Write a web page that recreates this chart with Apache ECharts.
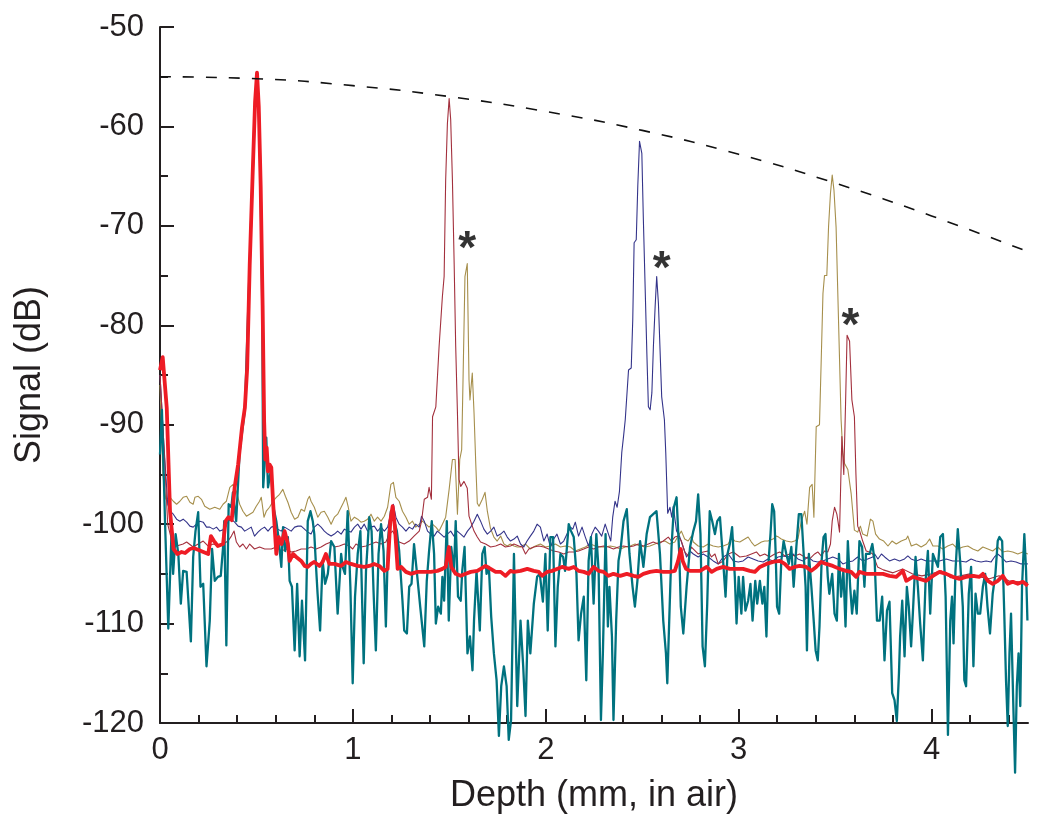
<!DOCTYPE html>
<html>
<head>
<meta charset="utf-8">
<script src="https://cdn.jsdelivr.net/npm/echarts@6/dist/echarts.min.js"></script>
<style>html,body{margin:0;padding:0;background:#fff;}#c{width:1050px;height:830px;}</style>
</head>
<body>
<div id="c"></div>
<script>
// ---- tick labels / positions ----
const xTickValues = [0, 1, 2, 3, 4];
const xMinorTickValues = [0.2,0.4,0.6,0.8,1.2,1.4,1.6,1.8,2.2,2.4,2.6,2.8,3.2,3.4,3.6,3.8,4.2,4.4];
const yTickValues = [-120,-110,-100,-90,-80,-70,-60,-50];
const yMinorTickValues = [-115,-105,-95,-85,-75,-65,-55];

// ---- series data [depth mm, signal dB] ----
const redData = [[0,-84.5],[0.014,-83.2],[0.035,-88.3],[0.052,-98.7],[0.07,-102.5],[0.09,-103],[0.112,-102.8],[0.13,-102.9],[0.155,-102.5],[0.175,-102.4],[0.2,-102.6],[0.225,-102.8],[0.25,-103],[0.264,-101.2],[0.28,-101.7],[0.3,-102.2],[0.327,-102],[0.34,-99.7],[0.355,-99.3],[0.372,-99.6],[0.387,-96.3],[0.405,-94],[0.425,-90.3],[0.44,-88.3],[0.452,-84.3],[0.465,-74],[0.48,-65],[0.493,-57.5],[0.503,-54.6],[0.512,-58],[0.522,-66],[0.532,-78],[0.54,-89.7],[0.546,-93.5],[0.553,-92.3],[0.56,-94.7],[0.568,-94],[0.577,-94.3],[0.586,-97.7],[0.603,-103],[0.615,-101.3],[0.63,-102],[0.646,-100.7],[0.663,-102],[0.672,-103.7],[0.69,-103],[0.706,-103.3],[0.732,-103.7],[0.75,-104.2],[0.766,-104.3],[0.783,-104],[0.8,-103.8],[0.827,-104.2],[0.843,-103.8],[0.86,-103],[0.878,-104],[0.904,-104],[0.939,-104.2],[0.964,-103.8],[0.99,-104],[1.025,-104.2],[1.059,-104.3],[1.085,-104.2],[1.11,-104],[1.137,-104.2],[1.163,-104.7],[1.18,-104.5],[1.194,-99.7],[1.206,-98.2],[1.218,-100.3],[1.232,-104.5],[1.25,-104.3],[1.275,-104.8],[1.3,-105],[1.335,-104.8],[1.37,-104.8],[1.404,-104.8],[1.438,-104.7],[1.464,-104.5],[1.481,-104.3],[1.498,-102.3],[1.51,-104.3],[1.533,-105],[1.559,-105.2],[1.585,-105],[1.611,-104.8],[1.645,-104.7],[1.688,-104.2],[1.714,-104.5],[1.74,-104.8],[1.766,-104.8],[1.791,-105.2],[1.817,-104.7],[1.835,-104.8],[1.869,-104.7],[1.904,-104.5],[1.938,-104.7],[1.964,-104.8],[1.981,-105.2],[2.007,-104.8],[2.033,-104.7],[2.058,-104.5],[2.084,-104.3],[2.119,-104.5],[2.145,-104.3],[2.17,-104.7],[2.197,-104.8],[2.222,-105],[2.248,-104.3],[2.274,-104.7],[2.3,-104.8],[2.325,-105.2],[2.351,-105],[2.386,-105.2],[2.42,-105],[2.455,-105.2],[2.48,-105.3],[2.506,-105],[2.54,-104.8],[2.574,-104.7],[2.609,-104.8],[2.643,-104.8],[2.669,-104.7],[2.686,-103.7],[2.7,-102.5],[2.71,-103.7],[2.727,-104.5],[2.748,-104.7],[2.765,-104.7],[2.8,-104.7],[2.834,-104.3],[2.86,-104.8],[2.886,-104.5],[2.92,-104.3],[2.954,-104.5],[2.989,-104.5],[3.023,-104.5],[3.058,-104.7],[3.084,-104.8],[3.11,-104.3],[3.144,-104],[3.178,-103.8],[3.213,-103.7],[3.239,-104],[3.264,-104.5],[3.29,-104.3],[3.316,-104.2],[3.35,-104.3],[3.376,-104.7],[3.402,-104.3],[3.428,-103.8],[3.454,-104],[3.488,-104.2],[3.523,-104.5],[3.557,-104.7],[3.583,-104.8],[3.609,-105.3],[3.626,-104.8],[3.661,-105],[3.695,-105],[3.713,-105],[3.748,-105],[3.782,-105.2],[3.817,-105.3],[3.851,-104.7],[3.869,-105.7],[3.903,-105.3],[3.938,-105.5],[3.972,-105.7],[4.007,-105.2],[4.041,-104.8],[4.076,-105],[4.11,-105.3],[4.145,-105.5],[4.179,-105.3],[4.214,-105.2],[4.248,-105.3],[4.266,-105],[4.292,-105.7],[4.317,-106],[4.343,-105.7],[4.369,-105.2],[4.395,-106],[4.421,-105.8],[4.447,-106],[4.473,-105.8],[4.499,-106.2]];

const tealData = [[0,-93],[0.01,-88.5],[0.026,-99.7],[0.043,-110.5],[0.06,-100.7],[0.068,-105],[0.081,-101],[0.095,-103],[0.108,-108],[0.12,-104.7],[0.138,-104.8],[0.146,-105],[0.16,-111.8],[0.172,-103.3],[0.184,-100.7],[0.198,-98.8],[0.21,-106.3],[0.224,-106],[0.241,-114.3],[0.258,-109.7],[0.27,-102.5],[0.284,-105.7],[0.3,-105.3],[0.315,-105.2],[0.327,-102.3],[0.333,-99.7],[0.344,-112.2],[0.356,-98],[0.37,-98.3],[0.378,-96.8],[0.395,-99.7],[0.413,-92.7],[0.44,-88.5],[0.465,-74],[0.48,-65],[0.493,-57.5],[0.503,-55],[0.512,-58],[0.522,-66],[0.53,-78],[0.535,-96.3],[0.551,-91.3],[0.56,-96.3],[0.577,-94.3],[0.585,-98],[0.603,-99.7],[0.614,-101.3],[0.629,-104.3],[0.638,-100.3],[0.649,-102.7],[0.663,-101.3],[0.672,-105.7],[0.684,-106.3],[0.698,-112.7],[0.711,-106],[0.724,-113.3],[0.736,-107.7],[0.752,-113.7],[0.766,-99.7],[0.78,-98.7],[0.792,-99.7],[0.8,-101],[0.809,-104.3],[0.817,-107],[0.83,-110.7],[0.843,-103.7],[0.856,-106],[0.87,-105],[0.887,-101.7],[0.904,-102.3],[0.921,-109],[0.939,-103],[0.947,-104.3],[0.959,-105],[0.973,-98.7],[0.987,-106.3],[0.999,-116],[1.011,-107.3],[1.025,-103],[1.039,-100.7],[1.056,-114],[1.068,-104.7],[1.085,-99.3],[1.097,-100.7],[1.107,-106.7],[1.119,-112.7],[1.133,-103],[1.146,-100],[1.159,-102.7],[1.171,-110.3],[1.183,-101.3],[1.197,-98.7],[1.214,-99.7],[1.228,-100.7],[1.24,-102.7],[1.257,-107.7],[1.266,-110.7],[1.28,-111],[1.292,-106.3],[1.304,-106],[1.317,-102],[1.331,-104.7],[1.349,-108.3],[1.37,-112.3],[1.383,-105.7],[1.395,-102.7],[1.409,-99.7],[1.421,-103],[1.43,-110],[1.442,-108.3],[1.456,-109],[1.464,-105.3],[1.473,-107.7],[1.487,-99.7],[1.497,-109.7],[1.51,-102.3],[1.524,-104.7],[1.533,-99.7],[1.545,-107.3],[1.559,-107.7],[1.567,-104.7],[1.579,-102.3],[1.594,-113],[1.607,-111.3],[1.62,-114.7],[1.628,-109.7],[1.641,-104.7],[1.658,-110.7],[1.671,-103],[1.683,-102.3],[1.693,-105],[1.705,-104.3],[1.717,-109.3],[1.731,-113],[1.745,-115.7],[1.757,-121.3],[1.769,-116.3],[1.783,-114.3],[1.797,-116.3],[1.808,-121.7],[1.82,-119.7],[1.835,-103],[1.852,-118.3],[1.869,-109.7],[1.883,-114.3],[1.895,-119.3],[1.907,-109.7],[1.92,-113],[1.938,-108],[1.955,-105.3],[1.969,-105],[1.985,-107.8],[1.998,-103],[2.01,-110.7],[2.024,-101.3],[2.038,-101.3],[2.05,-112.3],[2.062,-106.3],[2.076,-103],[2.09,-103.3],[2.1,-104.7],[2.119,-100],[2.131,-100.7],[2.145,-101.3],[2.159,-105],[2.17,-111.7],[2.183,-109],[2.197,-107.3],[2.21,-115.7],[2.222,-103.7],[2.234,-101.3],[2.248,-108],[2.262,-101],[2.274,-104.7],[2.286,-119.7],[2.296,-113],[2.31,-101],[2.322,-110.3],[2.33,-106.3],[2.343,-111.3],[2.351,-119.7],[2.365,-109.7],[2.377,-103.7],[2.389,-102.3],[2.403,-99.7],[2.42,-98.5],[2.434,-103],[2.45,-106.3],[2.462,-108.3],[2.475,-105.7],[2.489,-101.7],[2.506,-104.3],[2.523,-101],[2.54,-99.3],[2.557,-99],[2.574,-98.7],[2.592,-103],[2.609,-109.7],[2.623,-113],[2.63,-116],[2.64,-109.7],[2.652,-102.3],[2.664,-98.3],[2.678,-97.3],[2.692,-103],[2.7,-108.3],[2.713,-111],[2.73,-106.3],[2.748,-102.3],[2.765,-100.7],[2.779,-99.7],[2.79,-97],[2.802,-101],[2.813,-112.3],[2.825,-114.3],[2.837,-108],[2.85,-98.7],[2.863,-99.7],[2.877,-101],[2.889,-99.7],[2.903,-99.3],[2.917,-103],[2.932,-107.3],[2.942,-103],[2.954,-102],[2.966,-100.3],[2.98,-105.3],[2.989,-110],[3.0,-105.3],[3.014,-109],[3.023,-105.3],[3.035,-108.7],[3.049,-107.7],[3.061,-106],[3.072,-109.7],[3.086,-105.7],[3.096,-108],[3.11,-105.7],[3.123,-108],[3.133,-106.3],[3.144,-111.3],[3.154,-104],[3.165,-101],[3.174,-98],[3.184,-98.7],[3.192,-103],[3.199,-108.3],[3.21,-109],[3.221,-103.7],[3.233,-101.7],[3.247,-103],[3.26,-104],[3.273,-102.3],[3.285,-106.3],[3.299,-102.3],[3.312,-99],[3.325,-99],[3.337,-103],[3.347,-106.3],[3.354,-112.7],[3.364,-103],[3.377,-106.3],[3.389,-109.7],[3.399,-112.7],[3.41,-113.7],[3.419,-110.3],[3.43,-103.7],[3.44,-101.3],[3.45,-101],[3.462,-105.3],[3.47,-107],[3.485,-105],[3.497,-109],[3.509,-109.7],[3.52,-103],[3.531,-107.3],[3.543,-104.7],[3.554,-110.3],[3.566,-101.7],[3.578,-106.3],[3.588,-109],[3.6,-106.7],[3.612,-109],[3.626,-101.7],[3.64,-102.3],[3.652,-106.3],[3.66,-103],[3.679,-103],[3.693,-102],[3.705,-103.7],[3.717,-109.7],[3.731,-109.7],[3.744,-107.3],[3.756,-113.7],[3.769,-108.7],[3.782,-107.8],[3.796,-117],[3.808,-117.7],[3.82,-119.8],[3.831,-115],[3.837,-111.3],[3.848,-107.7],[3.86,-113.3],[3.872,-106.3],[3.882,-108.3],[3.894,-112.3],[3.903,-109],[3.917,-103.3],[3.929,-106.3],[3.941,-110],[3.955,-113.7],[3.969,-105.7],[3.981,-102.7],[3.993,-109],[4.007,-103],[4.021,-103.7],[4.033,-104.3],[4.045,-101.3],[4.059,-101],[4.073,-107.3],[4.085,-121.2],[4.097,-109.7],[4.106,-107.3],[4.114,-112],[4.124,-104.7],[4.136,-100.5],[4.148,-103.7],[4.162,-108.3],[4.17,-115.7],[4.179,-116.3],[4.193,-107],[4.205,-104.3],[4.217,-114.3],[4.228,-107],[4.24,-109],[4.252,-109],[4.266,-106.3],[4.278,-105],[4.29,-108.3],[4.303,-111],[4.317,-107],[4.331,-105],[4.343,-101.7],[4.352,-101.3],[4.366,-101.7],[4.377,-109],[4.386,-115.7],[4.395,-120.3],[4.404,-113],[4.412,-109],[4.424,-118.3],[4.433,-125],[4.442,-116.3],[4.451,-113],[4.46,-118.3],[4.469,-106.3],[4.481,-101],[4.49,-104.7],[4.497,-109.7]];

const maroonData = [[0,-85],[0.02,-92],[0.04,-100],[0.069,-102.3],[0.086,-102.2],[0.12,-102],[0.138,-101.8],[0.172,-102.3],[0.198,-102],[0.224,-101.7],[0.25,-102.2],[0.276,-102],[0.302,-102.2],[0.327,-102],[0.353,-101.7],[0.37,-101.2],[0.384,-100.7],[0.396,-101.8],[0.413,-102.3],[0.43,-102],[0.448,-102.5],[0.465,-102],[0.49,-102.5],[0.516,-102.3],[0.543,-102.5],[0.577,-102.5],[0.603,-102.3],[0.628,-102.7],[0.655,-102.5],[0.68,-102.8],[0.706,-102.7],[0.732,-102.5],[0.758,-102.5],[0.783,-102.3],[0.809,-102.5],[0.835,-102.3],[0.861,-102],[0.887,-101.8],[0.904,-102.3],[0.93,-102.2],[0.956,-102],[0.982,-102.2],[0.999,-102.5],[1.016,-102],[1.042,-102.3],[1.068,-102.2],[1.094,-102],[1.12,-101.8],[1.146,-102],[1.171,-101.8],[1.189,-101],[1.206,-100.7],[1.223,-101.3],[1.24,-101.8],[1.266,-102],[1.292,-101.7],[1.317,-101.2],[1.344,-100.7],[1.356,-99.7],[1.37,-97.5],[1.387,-97.3],[1.395,-96.3],[1.407,-97.5],[1.413,-89.2],[1.43,-88.2],[1.447,-82.1],[1.464,-77.1],[1.473,-75.1],[1.481,-65.4],[1.49,-59.7],[1.499,-57.2],[1.507,-59.3],[1.516,-65.4],[1.525,-73.8],[1.533,-82.1],[1.542,-88.8],[1.55,-95.5],[1.559,-96.2],[1.576,-95.7],[1.593,-96.4],[1.602,-99.2],[1.619,-100.2],[1.628,-100.7],[1.645,-101.3],[1.662,-101.8],[1.688,-102],[1.714,-102.3],[1.74,-102.2],[1.766,-102],[1.791,-102.3],[1.817,-102.2],[1.835,-102],[1.86,-102.2],[1.878,-102.3],[1.895,-103],[1.912,-102.5],[1.938,-102.3],[1.964,-102.2],[1.99,-102.3],[2.015,-102.5],[2.041,-102.7],[2.067,-102.8],[2.093,-103],[2.119,-102.8],[2.145,-102.8],[2.17,-102.7],[2.197,-102.5],[2.222,-102.3],[2.248,-102.5],[2.274,-102.3],[2.3,-102.2],[2.325,-102.3],[2.351,-102.5],[2.377,-102.3],[2.403,-102.2],[2.429,-102.3],[2.455,-102.2],[2.48,-102],[2.506,-102.2],[2.532,-102],[2.557,-101.8],[2.583,-102],[2.609,-101.7],[2.635,-101.3],[2.652,-101.7],[2.669,-101.3],[2.686,-101.2],[2.703,-101.7],[2.721,-102.8],[2.738,-103.2],[2.755,-102.3],[2.765,-102.5],[2.79,-103],[2.816,-102.8],[2.842,-102.7],[2.859,-103.3],[2.877,-103],[2.894,-104],[2.92,-103.7],[2.946,-103],[2.972,-102.8],[3.006,-103.3],[3.04,-103.2],[3.066,-103],[3.092,-102.8],[3.11,-103.2],[3.135,-103],[3.161,-103.3],[3.187,-103],[3.213,-102.8],[3.24,-103.2],[3.264,-103],[3.29,-103.2],[3.316,-103],[3.342,-103.3],[3.368,-103.5],[3.394,-103],[3.41,-102.8],[3.428,-103.2],[3.445,-102.7],[3.462,-102.8],[3.476,-102],[3.485,-99.7],[3.497,-98.3],[3.509,-99],[3.514,-99.6],[3.523,-100.8],[3.535,-91.2],[3.545,-95],[3.554,-88],[3.562,-81],[3.575,-81.6],[3.587,-87.5],[3.6,-89.2],[3.608,-95],[3.617,-100.2],[3.626,-100.6],[3.643,-101.7],[3.661,-102.7],[3.678,-102.8],[3.695,-103],[3.72,-104.3],[3.75,-104.6],[3.8,-104.9],[3.85,-104.5],[3.9,-105],[3.95,-105.2],[4.0,-105],[4.05,-104.7],[4.1,-105.4],[4.15,-105.2],[4.2,-105],[4.25,-105.3],[4.3,-105.5],[4.35,-105.2],[4.4,-105.7],[4.45,-105.8],[4.5,-105.9]];

const oliveData = [[0,-86],[0.015,-95],[0.03,-97.5],[0.052,-97.3],[0.069,-97.7],[0.086,-98],[0.103,-97.7],[0.12,-97.3],[0.138,-97.2],[0.155,-97.8],[0.172,-98],[0.181,-97.3],[0.198,-97.2],[0.215,-97.5],[0.232,-98.2],[0.258,-98.5],[0.284,-98.3],[0.31,-98.5],[0.327,-98],[0.344,-97.7],[0.362,-96.3],[0.379,-96],[0.396,-96.7],[0.413,-98],[0.43,-98.7],[0.448,-99.2],[0.465,-99],[0.482,-98.8],[0.499,-98.2],[0.516,-97.7],[0.525,-97.3],[0.539,-99.3],[0.551,-98.7],[0.568,-98.3],[0.586,-97.7],[0.603,-97.3],[0.62,-97],[0.637,-96.5],[0.65,-97.2],[0.663,-97.8],[0.68,-98.8],[0.698,-99.5],[0.715,-99.3],[0.732,-98.5],[0.749,-98.7],[0.766,-97.5],[0.775,-97.2],[0.783,-97.7],[0.8,-98.3],[0.818,-99.3],[0.835,-98.8],[0.852,-98.7],[0.87,-99.3],[0.887,-100],[0.904,-99.3],[0.921,-99],[0.939,-98.3],[0.952,-97.8],[0.964,-97.3],[0.976,-98.3],[0.99,-99.7],[1.008,-99.3],[1.025,-99.5],[1.042,-99.8],[1.059,-99.7],[1.076,-99.5],[1.094,-99],[1.111,-99.7],[1.128,-99.3],[1.146,-99.7],[1.163,-99.2],[1.18,-98.3],[1.197,-96],[1.21,-95.8],[1.223,-97.3],[1.24,-97.7],[1.257,-98.7],[1.275,-99.3],[1.292,-100],[1.309,-99.7],[1.326,-100.3],[1.344,-100],[1.361,-99.7],[1.378,-100],[1.395,-100.3],[1.412,-100],[1.43,-100.3],[1.447,-100.7],[1.464,-100],[1.481,-99.3],[1.499,-96.5],[1.516,-93.5],[1.53,-93.5],[1.542,-99],[1.554,-93.5],[1.564,-92.5],[1.571,-85.5],[1.581,-75.1],[1.593,-73.8],[1.602,-85.5],[1.607,-87.5],[1.619,-84.8],[1.628,-88.8],[1.637,-93.9],[1.645,-97.9],[1.654,-98.2],[1.671,-97.5],[1.685,-96.8],[1.697,-98.7],[1.713,-100.4],[1.731,-101.3],[1.748,-101.7],[1.766,-101.2],[1.783,-102],[1.8,-102.2],[1.817,-102],[1.835,-102.2],[1.852,-102.3],[1.869,-102.3],[1.895,-102],[1.92,-102.5],[1.946,-102.2],[1.972,-102],[1.998,-102.3],[2.024,-102.2],[2.05,-102],[2.076,-102.3],[2.102,-102.2],[2.128,-102.3],[2.153,-102.7],[2.179,-102.5],[2.205,-102.3],[2.231,-102],[2.257,-102.2],[2.283,-102.3],[2.308,-102.3],[2.334,-102.2],[2.36,-102.3],[2.386,-102.5],[2.412,-102.3],[2.438,-102.2],[2.463,-102],[2.489,-102.2],[2.515,-102.3],[2.54,-102.2],[2.566,-102],[2.592,-101.8],[2.618,-101.7],[2.643,-102],[2.669,-101.8],[2.686,-101.2],[2.703,-100.7],[2.72,-101.5],[2.738,-101.7],[2.755,-101.2],[2.765,-101.8],[2.79,-102.2],[2.816,-102.3],[2.842,-102],[2.868,-102.2],[2.894,-102.3],[2.92,-102.2],[2.946,-102],[2.963,-101.3],[2.98,-101.7],[3.006,-101.8],[3.032,-101.5],[3.049,-101.3],[3.066,-101.8],[3.083,-102.2],[3.101,-102],[3.118,-101.8],[3.135,-101.7],[3.152,-101.7],[3.178,-101.5],[3.195,-101.2],[3.207,-101.3],[3.221,-101.5],[3.247,-101.7],[3.273,-101.8],[3.29,-101.7],[3.307,-101.5],[3.325,-99.7],[3.342,-98.7],[3.354,-100],[3.368,-96.3],[3.381,-96],[3.39,-99.3],[3.402,-90.2],[3.419,-90],[3.428,-83.5],[3.437,-76.8],[3.445,-75],[3.457,-75],[3.466,-70.1],[3.476,-66.7],[3.485,-64.9],[3.494,-66.4],[3.505,-70.1],[3.514,-76.8],[3.523,-83.5],[3.531,-89.5],[3.54,-92.8],[3.549,-93.9],[3.566,-94.5],[3.583,-96.9],[3.6,-100.6],[3.617,-100.8],[3.631,-100.2],[3.643,-101],[3.666,-101.2],[3.683,-99.5],[3.696,-99.7],[3.71,-101],[3.73,-101.5],[3.752,-101.7],[3.774,-102.2],[3.795,-101.7],[3.817,-102],[3.843,-101.7],[3.869,-101.5],[3.877,-101.2],[3.895,-102.2],[3.921,-102],[3.946,-102.3],[3.972,-102],[3.99,-101.5],[4.007,-102.2],[4.033,-102.2],[4.058,-102.5],[4.084,-102.2],[4.11,-102],[4.136,-102.5],[4.162,-102.3],[4.188,-102.2],[4.214,-102.5],[4.24,-102.7],[4.266,-102.3],[4.292,-102.5],[4.317,-102.7],[4.343,-102.3],[4.369,-102.8],[4.395,-102.7],[4.421,-102.8],[4.447,-103],[4.473,-102.8],[4.499,-103]];

const navyData = [[0,-85],[0.02,-92],[0.04,-98],[0.052,-98.7],[0.069,-99],[0.086,-99.5],[0.103,-99.7],[0.12,-99.5],[0.138,-99.8],[0.155,-100.2],[0.172,-100.3],[0.189,-100],[0.207,-99.7],[0.224,-99.8],[0.241,-100.3],[0.258,-100.3],[0.276,-100.5],[0.293,-100.3],[0.31,-100.7],[0.336,-100.5],[0.353,-99.7],[0.37,-99.5],[0.387,-99.8],[0.405,-100.2],[0.422,-100.3],[0.439,-100.7],[0.456,-100.5],[0.473,-100.3],[0.49,-101.2],[0.508,-100.8],[0.525,-100.5],[0.542,-100.3],[0.56,-100.7],[0.577,-100.3],[0.594,-100.2],[0.611,-100.5],[0.628,-100.7],[0.646,-100.3],[0.663,-100.5],[0.68,-100.7],[0.698,-100.3],[0.715,-100.2],[0.732,-100.2],[0.749,-100.5],[0.766,-100.8],[0.783,-101],[0.8,-100.3],[0.818,-100],[0.835,-100.3],[0.852,-100.7],[0.87,-101],[0.887,-101.2],[0.904,-101],[0.921,-100.7],[0.939,-101],[0.956,-100.5],[0.973,-100.7],[0.99,-100.8],[1.008,-100.3],[1.025,-100],[1.042,-100.5],[1.059,-100],[1.076,-100.7],[1.094,-100.3],[1.111,-100.2],[1.128,-100.7],[1.146,-100.3],[1.163,-100.7],[1.18,-100.3],[1.197,-99],[1.21,-98],[1.223,-99.3],[1.24,-100],[1.257,-100.3],[1.275,-100.7],[1.292,-100.3],[1.309,-100.5],[1.326,-100],[1.344,-100.3],[1.356,-99.2],[1.37,-99.7],[1.387,-100.7],[1.404,-101],[1.421,-101.2],[1.438,-100.7],[1.456,-101],[1.473,-101.3],[1.49,-101],[1.507,-100.7],[1.524,-101.2],[1.541,-100.7],[1.559,-101],[1.576,-101.3],[1.594,-100.7],[1.611,-100.3],[1.628,-99.7],[1.645,-99],[1.662,-99.7],[1.679,-100.5],[1.697,-101],[1.714,-100.7],[1.731,-100.3],[1.748,-101.2],[1.766,-101],[1.783,-100.7],[1.8,-101.3],[1.817,-101.7],[1.835,-101.5],[1.852,-101.2],[1.869,-102],[1.886,-102.3],[1.903,-101.7],[1.92,-101.2],[1.938,-100.7],[1.955,-100],[1.972,-100.3],[1.99,-101.7],[2.007,-101],[2.024,-102.3],[2.041,-101.5],[2.058,-101],[2.076,-102],[2.093,-101.7],[2.11,-101],[2.128,-100.3],[2.14,-100.5],[2.153,-99.8],[2.17,-101.2],[2.188,-100.3],[2.205,-101.3],[2.222,-102.2],[2.239,-101],[2.256,-100.3],[2.273,-100.7],[2.29,-101.2],[2.308,-100],[2.325,-101],[2.337,-101.7],[2.347,-99.3],[2.359,-97.7],[2.37,-98.3],[2.382,-96.7],[2.394,-92.8],[2.403,-91.2],[2.412,-89.5],[2.429,-84.5],[2.443,-84.3],[2.451,-79.4],[2.458,-71.7],[2.469,-71.4],[2.477,-66],[2.486,-61.5],[2.498,-62.7],[2.506,-69.4],[2.515,-76.1],[2.524,-82.8],[2.532,-88.2],[2.541,-88.5],[2.55,-86.8],[2.558,-82.1],[2.567,-78.1],[2.575,-75.1],[2.584,-77.8],[2.593,-82.8],[2.601,-87.2],[2.615,-89.5],[2.622,-92.8],[2.632,-98.9],[2.644,-98.3],[2.653,-99.3],[2.661,-98.2],[2.678,-100.7],[2.695,-101.3],[2.712,-102.3],[2.73,-103.3],[2.747,-102.7],[2.765,-103],[2.79,-103.3],[2.816,-103],[2.842,-103.3],[2.868,-103.7],[2.894,-104],[2.92,-103.3],[2.946,-103],[2.972,-103.7],[2.998,-103.8],[3.023,-103.7],[3.049,-103.3],[3.075,-103.5],[3.101,-103.7],[3.127,-103.8],[3.152,-103.5],[3.178,-103.7],[3.204,-103.3],[3.23,-103.2],[3.256,-103.3],[3.282,-103],[3.307,-103.5],[3.333,-103.7],[3.359,-103.3],[3.385,-103.7],[3.41,-103.8],[3.436,-103.7],[3.462,-103.5],[3.488,-103.3],[3.514,-103.5],[3.54,-104],[3.566,-103.8],[3.592,-103.7],[3.617,-103.3],[3.643,-103.7],[3.669,-103.5],[3.695,-103.3],[3.705,-103],[3.722,-103.5],[3.74,-103],[3.757,-103.3],[3.782,-103.7],[3.808,-103.5],[3.834,-103.7],[3.86,-103.5],[3.877,-103.2],[3.894,-103.5],[3.921,-103.7],[3.946,-103.5],[3.972,-103.7],[4.007,-103.7],[4.041,-103.7],[4.076,-103.5],[4.11,-103.7],[4.145,-103.7],[4.179,-103.8],[4.205,-103.5],[4.231,-103.7],[4.257,-103.8],[4.283,-103.7],[4.309,-103.8],[4.326,-103.3],[4.343,-103],[4.361,-103.3],[4.386,-103.8],[4.412,-103.7],[4.438,-103.8],[4.464,-104],[4.499,-104]];

const envelopeData = [[0,-55],[0.5,-55.2],[1,-55.9],[1.5,-57],[2,-58.5],[2.5,-60.4],[3,-62.8],[3.5,-65.7],[4,-69],[4.5,-72.6]];

const asteriskData = [[1.593,-71.4],[2.601,-73.4],[3.58,-79.1]];

const FONT = 'Liberation Sans, Arial, sans-serif';
const INK = '#231f20';

const chart = echarts.init(document.getElementById('c'), null, {renderer: 'canvas'});

const lineSeries = (name, data, color, width, z, extra) => Object.assign({
  name, type: 'line', data, xAxisIndex: 0, yAxisIndex: 0,
  showSymbol: false, symbol: 'none', smooth: false, z,
  lineStyle: {color, width, join: 'round'}, emphasis: {disabled: true}
}, extra || {});

chart.setOption({
  animation: false,
  backgroundColor: '#ffffff',
  grid: {left: 160, right: 22, top: 27, bottom: 107, containLabel: false},
  xAxis: [{
    type: 'value', min: 0, max: 4.5, interval: 1,
    name: 'Depth (mm, in air)', nameLocation: 'middle', nameGap: 55,
    nameTextStyle: {fontFamily: FONT, fontSize: 36, color: INK},
    axisLine: {show: true, onZero: false, lineStyle: {color: INK, width: 2}},
    axisTick: {show: true, inside: true, length: 14, lineStyle: {color: INK, width: 2}, customValues: xTickValues},
    axisLabel: {show: true, margin: 12, fontFamily: FONT, fontSize: 31, color: INK, customValues: xTickValues},
    splitLine: {show: false}
  }, {
    type: 'value', min: 0, max: 4.5, position: 'bottom', gridIndex: 0,
    axisLine: {show: false},
    axisTick: {show: true, inside: true, length: 8, lineStyle: {color: INK, width: 2}, customValues: xMinorTickValues},
    axisLabel: {show: false},
    splitLine: {show: false}
  }],
  yAxis: [{
    type: 'value', min: -120, max: -50, interval: 10,
    name: 'Signal (dB)', nameLocation: 'middle', nameGap: 112, nameRotate: 90,
    nameTextStyle: {fontFamily: FONT, fontSize: 36, color: INK},
    axisLine: {show: true, onZero: false, lineStyle: {color: INK, width: 2}},
    axisTick: {show: true, inside: true, length: 14, lineStyle: {color: INK, width: 2}, customValues: yTickValues},
    axisLabel: {show: true, margin: 16, fontFamily: FONT, fontSize: 31, color: INK, customValues: yTickValues},
    splitLine: {show: false}
  }, {
    type: 'value', min: -120, max: -50, position: 'left', gridIndex: 0,
    axisLine: {show: false},
    axisTick: {show: true, inside: true, length: 8, lineStyle: {color: INK, width: 2}, customValues: yMinorTickValues},
    axisLabel: {show: false},
    splitLine: {show: false}
  }],
  series: [
    lineSeries('olive', oliveData, '#a68f4c', 1.1, 2),
    lineSeries('navy', navyData, '#34348a', 1.1, 3),
    lineSeries('maroon', maroonData, '#a3303d', 1.1, 4),
    lineSeries('teal', tealData, '#00727f', 2.3, 5, {clip: false}),
    lineSeries('red', redData, '#ee1c25', 3.8, 6),
    lineSeries('envelope', envelopeData, '#111111', 1.6, 7, {smooth: true, lineStyle: {color: '#111111', width: 1.6, type: [11, 12]}}),
    {
      name: 'asterisk', type: 'scatter', data: asteriskData, symbolSize: 1,
      itemStyle: {color: 'rgba(0,0,0,0)'}, z: 8, emphasis: {disabled: true},
      label: {show: true, position: 'inside', formatter: '*', offset: [0, 11],
        fontFamily: FONT, fontSize: 46, fontWeight: 'bold', color: '#000000'}
    }
  ]
});
</script>
</body>
</html>
